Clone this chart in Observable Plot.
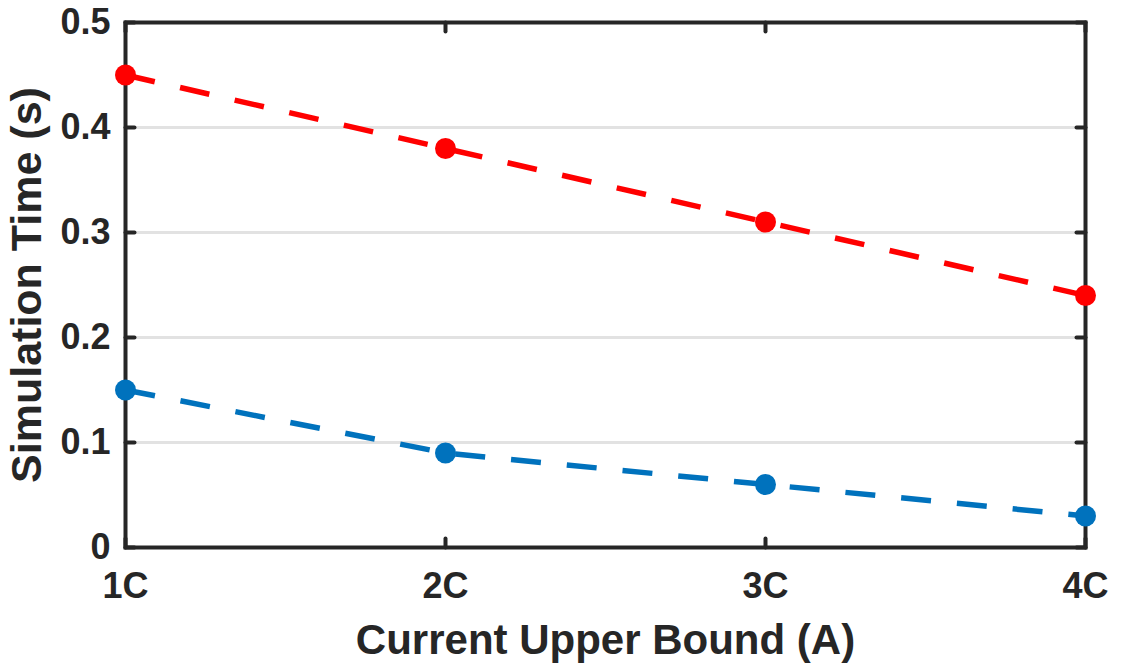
<!DOCTYPE html>
<html>
<head>
<meta charset="utf-8">
<script src="https://cdn.jsdelivr.net/npm/d3@7"></script>
<script src="https://cdn.jsdelivr.net/npm/@observablehq/plot@0.6"></script>
<style>
  html, body { margin: 0; padding: 0; background: #fff; }
</style>
</head>
<body>
<div id="chart"></div>
<script>
// Current upper bound categories (x axis)
const bounds = ["1C", "2C", "3C", "4C"];
// Simulation times in seconds for the two series
const redTimes = [0.45, 0.38, 0.31, 0.24];
const blueTimes = [0.15, 0.09, 0.06, 0.03];
// Y axis ticks
const yTicks = [0, 0.1, 0.2, 0.3, 0.4, 0.5];
const gridTicks = [0.1, 0.2, 0.3, 0.4];

const ink = "#262626";
const redColor = "#ff0000";
const blueColor = "#0072bd";

const redData = bounds.map((b, i) => ({bound: b, time: redTimes[i]}));
const blueData = bounds.map((b, i) => ({bound: b, time: blueTimes[i]}));

// short inward tick drawn as a plain line segment
const tickShape = {
  draw(context, l) {
    context.moveTo(0, 0);
    context.lineTo(0, -l);
  }
};

const tickLen = 9;
const tickStyle = {length: tickLen, shape: tickShape, anchor: "start", stroke: ink, strokeWidth: 4};

const chart = Plot.plot({
  width: 1123,
  height: 669,
  marginLeft: 125,
  marginRight: 38,
  marginTop: 22,
  marginBottom: 122,
  style: {
    fontFamily: "'Liberation Sans', Arial, Helvetica, sans-serif",
    fontWeight: "bold",
    fontSize: "36px",
    color: ink,
    background: "#fff"
  },
  x: {type: "point", domain: bounds, padding: 0},
  y: {domain: [0, 0.5]},
  marks: [
    Plot.ruleY(gridTicks, {stroke: "#e2e2e2", strokeWidth: 3}),
    Plot.frame({stroke: ink, strokeWidth: 4}),
    // inward ticks on all four sides
    Plot.vector(yTicks, {y: d => d, frameAnchor: "left", rotate: 90, ...tickStyle}),
    Plot.vector(yTicks, {y: d => d, frameAnchor: "right", rotate: -90, ...tickStyle}),
    Plot.vector(bounds, {x: d => d, frameAnchor: "bottom", rotate: 0, ...tickStyle}),
    Plot.vector(bounds, {x: d => d, frameAnchor: "top", rotate: 180, ...tickStyle}),
    Plot.axisY({
      ticks: yTicks,
      tickFormat: d => (d === 0 ? "0" : d.toFixed(1)),
      tickSize: 0,
      tickPadding: 15,
      label: null
    }),
    Plot.axisX({
      ticks: bounds,
      tickSize: 0,
      tickPadding: 25,
      label: null
    }),
    Plot.text(["Simulation Time (s)"], {
      frameAnchor: "left",
      textAnchor: "middle",
      lineAnchor: "middle",
      dx: -98,
      rotate: -90,
      fontSize: 43,
      fill: ink
    }),
    Plot.text(["Current Upper Bound (A)"], {
      frameAnchor: "bottom",
      textAnchor: "middle",
      lineAnchor: "middle",
      dy: 93,
      fontSize: 42,
      fill: ink
    }),
    Plot.line(redData, {x: "bound", y: "time", stroke: redColor, strokeWidth: 5.5, strokeDasharray: "30,26", strokeLinecap: "butt"}),
    Plot.line(blueData, {x: "bound", y: "time", stroke: blueColor, strokeWidth: 5.5, strokeDasharray: "30,26", strokeLinecap: "butt"}),
    Plot.dot(redData, {x: "bound", y: "time", r: 10.5, fill: redColor}),
    Plot.dot(blueData, {x: "bound", y: "time", r: 10.5, fill: blueColor})
  ]
});

document.getElementById("chart").appendChild(chart);
</script>
</body>
</html>
